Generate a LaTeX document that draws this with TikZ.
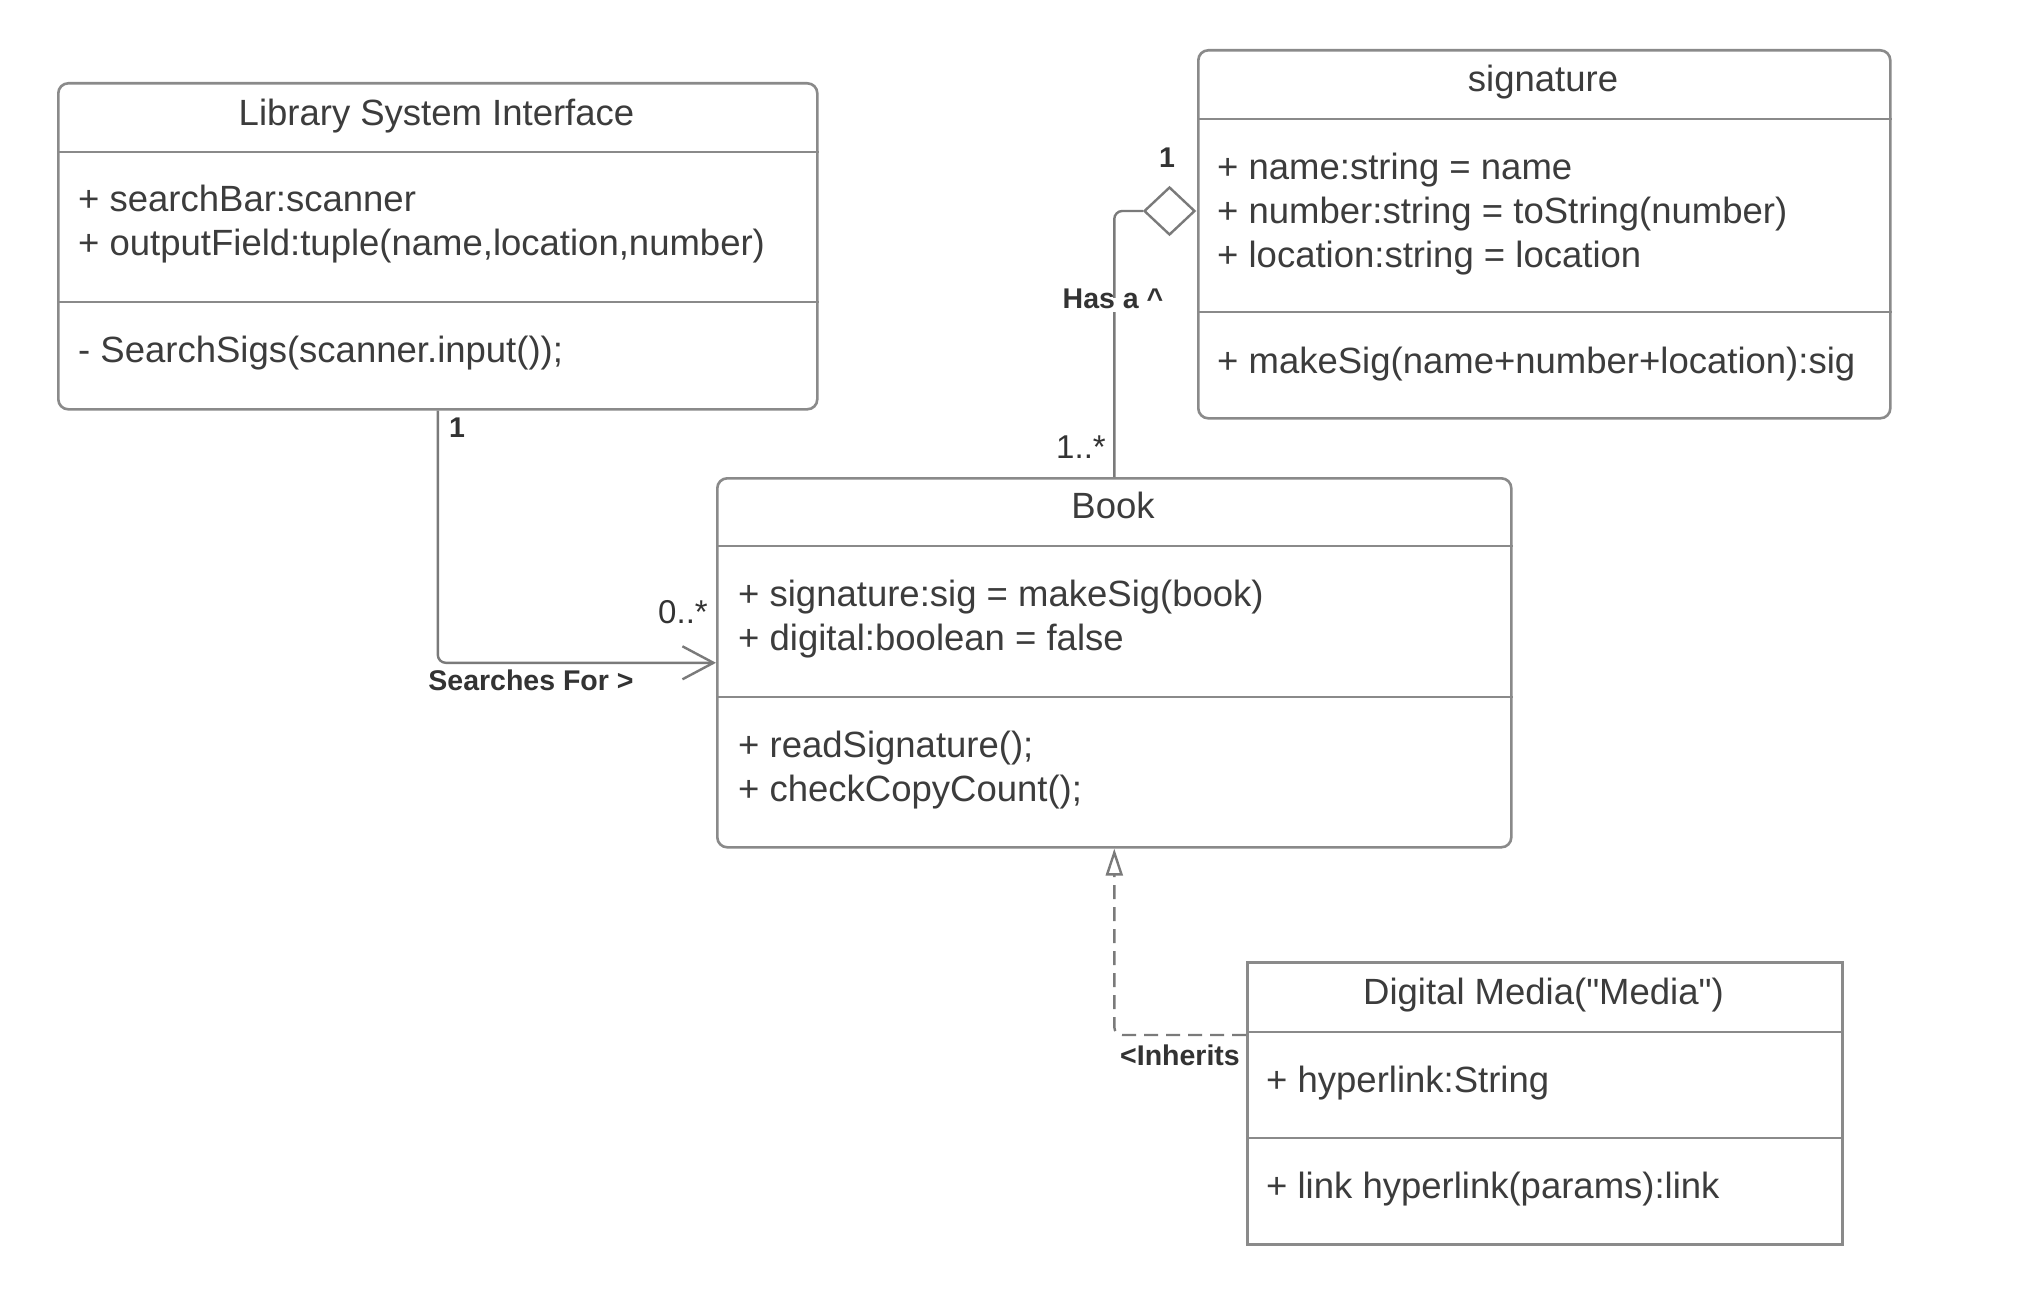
\documentclass[tikz,border=0pt]{standalone}
\usepackage{fontspec}
\setmainfont{Liberation Sans}[Ligatures=TeXOff]
\usetikzlibrary{arrows.meta,shapes.geometric}
\definecolor{boxline}{HTML}{8A8A8A}
\definecolor{txt}{HTML}{3C3C3C}
\definecolor{lbl}{HTML}{333333}
\definecolor{connline}{HTML}{7A7A7A}
\tikzset{
  classbox/.style={draw=boxline, line width=2.6pt, fill=white, anchor=north west, inner sep=0pt},
  divider/.style={draw=boxline, line width=2.6pt},
  ctitle/.style={text=txt, font=\fontsize{36.5}{44}\selectfont, inner sep=0pt, text height=0.72em, text depth=0pt},
  member/.style={ctitle, anchor=west},
  lblb/.style={text=lbl, font=\fontsize{28.5}{34}\selectfont\bfseries, inner sep=0pt, text height=0.72em, text depth=0pt},
  lblr/.style={text=lbl, font=\fontsize{33}{38}\selectfont, inner sep=0pt, text height=0.72em, text depth=0pt},
  conn/.style={draw=connline, line width=2.4pt},
  aggr/.style={diamond, draw=connline, line width=2.4pt, fill=white, inner sep=0pt, minimum width=51pt, minimum height=48pt},
}
\begin{document}
\begin{tikzpicture}[x=1pt,y=-1pt]
\useasboundingbox[fill=white] (0,0) rectangle (2030,1290);

% Library System Interface
\node[classbox, rounded corners=10pt, minimum width=759pt, minimum height=326pt] (lib) at (57,82) {};
\draw[divider] (lib.west |- 0,152) -- (lib.east |- 0,152);
\draw[divider] (lib.west |- 0,302) -- (lib.east |- 0,302);
\node[ctitle] (libT) at (436.5,122) {Library System Interface};
\node[member] (libA1) at (78,208) {+ searchBar:scanner};
\node[member] (libA2) at (78,252) {+ outputField:tuple(name,location,number)};
\node[member] (libM1) at (78,359) {- SearchSigs(scanner.input());};

% signature
\node[classbox, rounded corners=10pt, minimum width=692pt, minimum height=368pt] (sig) at (1197,49) {};
\draw[divider] (sig.west |- 0,119) -- (sig.east |- 0,119);
\draw[divider] (sig.west |- 0,312) -- (sig.east |- 0,312);
\node[ctitle] (sigT) at (1543,88) {signature};
\node[member] (sigA1) at (1217,176) {+ name:string = name};
\node[member] (sigA2) at (1217,220) {+ number:string = toString(number)};
\node[member] (sigA3) at (1217,264) {+ location:string = location};
\node[member] (sigM1) at (1217,370) {+ makeSig(name+number+location):sig};

% Book
\node[classbox, rounded corners=10pt, minimum width=794pt, minimum height=369pt] (book) at (716,477) {};
\draw[divider] (book.west |- 0,546) -- (book.east |- 0,546);
\draw[divider] (book.west |- 0,697) -- (book.east |- 0,697);
\node[ctitle] (bookT) at (1113,515) {Book};
\node[member] (bookA1) at (738,603) {+ signature:sig = makeSig(book)};
\node[member] (bookA2) at (738,647) {+ digital:boolean = false};
\node[member] (bookM1) at (738,754) {+ readSignature();};
\node[member] (bookM2) at (738,798) {+ checkCopyCount();};

% Digital Media
\node[classbox, minimum width=595pt, minimum height=282pt] (dm) at (1246,961) {};
\draw[divider] (dm.west |- 0,1032) -- (dm.east |- 0,1032);
\draw[divider] (dm.west |- 0,1138) -- (dm.east |- 0,1138);
\node[ctitle] (dmT) at (1543.5,1001) {Digital Media("Media")};
\node[member] (dmA1) at (1266,1089) {+ hyperlink:String};
\node[member] (dmM1) at (1266,1195) {+ link hyperlink(params):link};

% Searches For
\draw[conn, rounded corners=8pt, -{Straight Barb[length=31pt,width=33pt,line width=2.4pt]}] (lib.south) |- (book.west);
\node[lblb] (l0) at (457,434) {1};
\node[lblr] (l0s) at (683,620) {0..*};
\node[lblb] (lsf) at (531,687) {Searches For >};

% Has a
\node[aggr] (dia) at (1169.5,211) {};
\draw[conn, rounded corners=8pt] (book.north) |- (dia.west);
\node[lblb] (l1) at (1167,164) {1};
\node[lblb, fill=white, inner sep=3pt] (lhas) at (1113,305) {Has a \^{}};
\node[lblr] (l1s) at (1081,455) {1..*};

% Inherits
\coordinate (dmin) at (1246,1035);
\draw[conn, dash pattern=on 14pt off 8pt, rounded corners=8pt, -{Triangle[open,length=27pt,width=17pt,line width=2.4pt]}] (dmin) -| (book.south);
\node[lblb] (linh) at (1180,1062) {<Inherits};
\end{tikzpicture}
\end{document}
